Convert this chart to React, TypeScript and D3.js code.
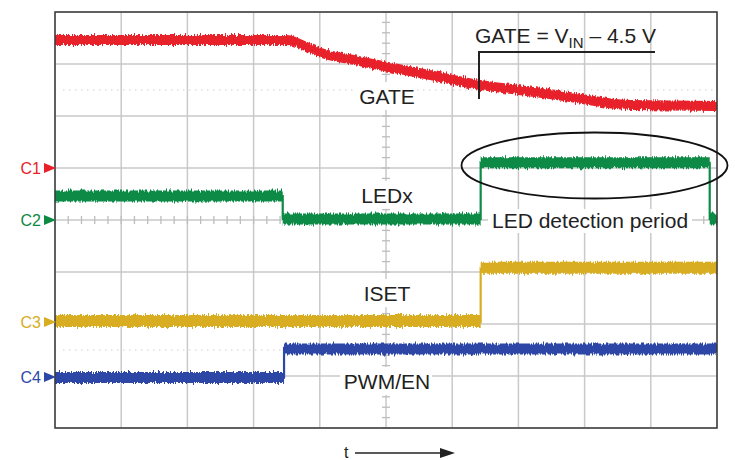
import React from 'react';
import * as d3 from 'd3';

// time axis in divisions (0..10), amplitude in divisions from the bottom edge (0..8)
const gateTime = [0, 3.5, 3.75, 4.0, 4.5, 5.0, 5.7, 6.4, 7.0, 7.6, 8.1, 8.7, 9.3, 10];
const gateLevel = [7.46, 7.46, 7.36, 7.22, 7.08, 6.95, 6.78, 6.6, 6.5, 6.4, 6.3, 6.21, 6.2, 6.19];

const ledTime = [0, 3.44, 3.44, 6.43, 6.43, 9.89, 9.89, 10];
const ledLevel = [4.46, 4.46, 4.02, 4.02, 5.1, 5.1, 4.02, 4.02];

const isetTime = [0, 6.43, 6.43, 10];
const isetLevel = [2.06, 2.06, 3.08, 3.08];

const pwmTime = [0, 3.46, 3.46, 10];
const pwmLevel = [0.97, 0.97, 1.52, 1.52];

const channels = ['C1', 'C2', 'C3', 'C4'];
const channelLevel = [5.0, 4.0, 2.04, 0.98];
const channelColor = ['#e8202a', '#0b8a44', '#d8ad20', '#2d47a6'];

const signalNames = ['GATE', 'LEDx', 'ISET', 'PWM/EN'];
const signalNameLevel = [6.23, 4.33, 2.44, 0.75];

type Pt = { t: number; v: number };
const zip = (t: number[], v: number[]): Pt[] => t.map((x, i) => ({ t: x, v: v[i] }));

export default function App() {
  const W = 735;
  const H = 460;
  const margin = { left: 55, right: 18, top: 12, bottom: 32 };

  const x = d3.scaleLinear().domain([0, 10]).range([margin.left, W - margin.right]);
  const y = d3.scaleLinear().domain([0, 8]).range([H - margin.bottom, margin.top]);

  const band = (half: number, smooth: boolean) => {
    const a = d3
      .area<Pt>()
      .x((d) => x(d.t))
      .y0((d) => y(d.v) + half)
      .y1((d) => y(d.v) - half);
    return smooth ? a.curve(d3.curveMonotoneX) : a;
  };
  const edge = (smooth: boolean) => {
    const l = d3
      .line<Pt>()
      .x((d) => x(d.t))
      .y((d) => y(d.v));
    return smooth ? l.curve(d3.curveMonotoneX) : l;
  };

  const traces = [
    { pts: zip(gateTime, gateLevel), color: channelColor[0], half: 5, smooth: true },
    { pts: zip(ledTime, ledLevel), color: channelColor[1], half: 5.5, smooth: false },
    { pts: zip(isetTime, isetLevel), color: channelColor[2], half: 6, smooth: false },
    { pts: zip(pwmTime, pwmLevel), color: channelColor[3], half: 5.5, smooth: false },
  ];

  const majorX = d3.range(0, 11);
  const majorY = d3.range(0, 9);
  const minorX = d3.range(0, 50.01, 1).map((i) => i / 5);
  const minorY = d3.range(0, 40.01, 1).map((i) => i / 5);
  const cx = x(5);
  const cy = y(4);

  const font = 'Arial, "Liberation Sans", sans-serif';

  // label boxes (white backgrounds hide the grid behind the captions)
  const nameWidth = [58, 54, 50, 92];

  return (
    <svg
      width={W}
      height={H}
      style={{ position: 'absolute', left: 0, top: 0, background: '#fff' }}
    >
      <defs>
        <filter id="noise" x="-5%" y="-50%" width="110%" height="200%">
          <feTurbulence type="fractalNoise" baseFrequency="1.1 0.05" numOctaves="2" seed="3" result="turb" />
          <feColorMatrix
            in="turb"
            type="matrix"
            values="0 0 0 0 0.5  0 1 0 0 0  0 0 0 0 0  0 0 0 0 1"
            result="map"
          />
          <feDisplacementMap in="SourceGraphic" in2="map" scale="6" xChannelSelector="R" yChannelSelector="G" />
        </filter>
      </defs>

      {/* grid */}
      <g stroke="#c9c9c9" strokeWidth={1.5}>
        {majorX.map((t) => (
          <line key={'gx' + t} x1={x(t)} x2={x(t)} y1={y(0)} y2={y(8)} />
        ))}
        {majorY.map((v) => (
          <line key={'gy' + v} x1={x(0)} x2={x(10)} y1={y(v)} y2={y(v)} />
        ))}
      </g>
      <g stroke="#dedede" strokeWidth={1.5} strokeDasharray="1.5 4.5">
        {[1.5, 6.5].map((v) => (
          <line key={'dot' + v} x1={x(0) + 8} x2={x(10)} y1={y(v)} y2={y(v)} />
        ))}
      </g>
      <g stroke="#bdbdbd" strokeWidth={1.3}>
        {minorX.map((t) => (
          <line key={'mx' + t} x1={x(t)} x2={x(t)} y1={cy - 4} y2={cy + 4} />
        ))}
        {minorY.map((v) => (
          <line key={'my' + v} x1={cx - 4} x2={cx + 4} y1={y(v)} y2={y(v)} />
        ))}
      </g>

      {/* caption backgrounds */}
      {signalNames.map((n, i) => (
        <rect
          key={'bg' + n}
          x={cx - nameWidth[i] / 2}
          y={y(signalNameLevel[i]) - 22}
          width={nameWidth[i]}
          height={28}
          fill="#fff"
        />
      ))}
      <rect x={488} y={y(4) - 11} width={204} height={24} fill="#fff" />

      {/* traces */}
      <g filter="url(#noise)">
        {traces.map((tr, i) => (
          <g key={'tr' + i}>
            <path d={band(tr.half, tr.smooth)(tr.pts) ?? ''} fill={tr.color} />
            <path d={edge(tr.smooth)(tr.pts) ?? ''} fill="none" stroke={tr.color} strokeWidth={2.2} />
          </g>
        ))}
      </g>

      {/* frame */}
      <rect
        x={x(0)}
        y={y(8)}
        width={x(10) - x(0)}
        height={y(0) - y(8)}
        fill="none"
        stroke="#3a3a3a"
        strokeWidth={1.5}
      />

      {/* channel markers */}
      {channels.map((c, i) => (
        <g key={c} fill={channelColor[i]}>
          <path d={`M${x(0) - 11},${y(channelLevel[i]) - 5}L${x(0) + 1},${y(channelLevel[i])}L${x(0) - 11},${y(channelLevel[i]) + 5}Z`} />
          <text
            x={x(0) - 14}
            y={y(channelLevel[i]) + 6}
            textAnchor="end"
            fontFamily={font}
            fontSize={16}
          >
            {c}
          </text>
        </g>
      ))}

      {/* signal names */}
      {signalNames.map((n, i) => (
        <text
          key={n}
          x={cx + 1}
          y={y(signalNameLevel[i])}
          textAnchor="middle"
          fontFamily={font}
          fontSize={21}
          fill="#222"
        >
          {n}
        </text>
      ))}

      <text x={492} y={228} fontFamily={font} fontSize={21} fill="#222">
        LED detection period
      </text>

      {/* gate annotation */}
      <text x={475} y={43} fontFamily={font} fontSize={21} fill="#222">
        GATE = V
        <tspan fontSize={15} dy={5}>IN</tspan>
        <tspan dy={-5}> – 4.5 V</tspan>
      </text>
      <path d="M479,99V52H655" fill="none" stroke="#222" strokeWidth={2} />

      <ellipse cx={594.5} cy={165.5} rx={133} ry={33} fill="none" stroke="#111" strokeWidth={1.8} />

      {/* time arrow */}
      <text x={344} y={458} fontFamily={font} fontSize={16} fill="#222">
        t
      </text>
      <line x1={355} x2={442} y1={453} y2={453} stroke="#222" strokeWidth={1.5} />
      <path d="M440,448L455,453L440,458Z" fill="#222" />
    </svg>
  );
}
